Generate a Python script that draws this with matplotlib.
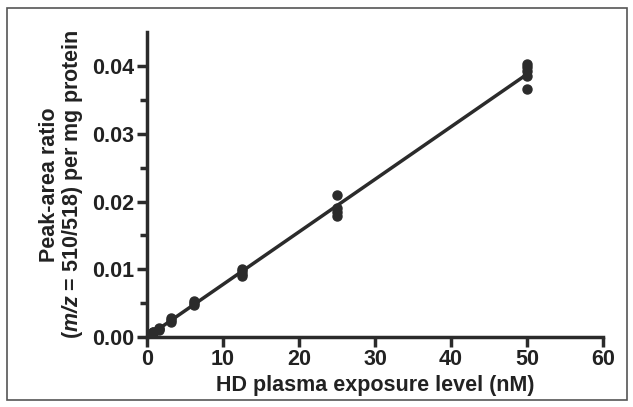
import numpy as np
import matplotlib.pyplot as plt
from matplotlib.patches import Rectangle

plt.rcParams['font.family'] = 'Liberation Sans'
plt.rcParams['mathtext.fontset'] = 'custom'
plt.rcParams['mathtext.bf'] = 'Liberation Sans:bold'
plt.rcParams['mathtext.bfit'] = 'Liberation Sans:bold:italic'
plt.rcParams['mathtext.rm'] = 'Liberation Sans:bold'

# HD exposure levels (nM) and replicate peak-area ratios
conc = [0.78, 1.56, 3.125, 6.25, 12.5, 25, 50]
ratios = [
    [0.0008, 0.0006, 0.0007],
    [0.0013, 0.0011, 0.0012],
    [0.0028, 0.0025, 0.0022],
    [0.0053, 0.0050, 0.0047],
    [0.0101, 0.0098, 0.0093, 0.0090],
    [0.0210, 0.0191, 0.0184, 0.0179],
    [0.0403, 0.0399, 0.0393, 0.0386, 0.0366],
]
xticks = [0, 10, 20, 30, 40, 50, 60]
yticks = [0.00, 0.01, 0.02, 0.03, 0.04]

col = '#2b2b2b'
fig = plt.figure(figsize=(6.33, 4.07), dpi=100)
ax = fig.add_axes([0.232, 0.172, 0.721, 0.749])

xs = np.concatenate([[c] * len(r) for c, r in zip(conc, ratios)])
ys = np.concatenate(ratios)
ax.plot(xs, ys, 'o', color=col, ms=6.5, mec=col, zorder=3)

slope, icpt = np.polyfit(xs, ys, 1)
xl = np.array([0, max(conc)])
ax.plot(xl, slope * xl + icpt, color=col, lw=2.5, zorder=2)

ax.set_xlim(0, 60)
ax.set_ylim(0, 0.045)
ax.set_xticks(xticks)
ax.set_yticks(yticks)
ax.set_yticks(np.arange(0.005, 0.045, 0.01), minor=True)
ax.set_xticklabels([str(t) for t in xticks])
ax.set_yticklabels(['%.2f' % t for t in yticks])
ax.tick_params(axis='both', which='major', length=7, width=2.5, color=col,
               labelsize=15.5, labelcolor='#222222', pad=2)
ax.tick_params(axis='y', which='minor', length=5, width=2.5, color=col)
for lab in ax.get_xticklabels() + ax.get_yticklabels():
    lab.set_fontweight('bold')

for s in ['top', 'right']:
    ax.spines[s].set_visible(False)
for s in ['left', 'bottom']:
    ax.spines[s].set_linewidth(2.5)
    ax.spines[s].set_color(col)

ax.set_xlabel('HD plasma exposure level (nM)', fontsize=15.5, fontweight='bold',
              color='#222222', labelpad=3)
ax.set_ylabel('Peak-area ratio\n($\\mathbfit{m/z}$ = 510/518) per mg protein',
              fontsize=15.5, fontweight='bold', color='#222222', labelpad=5,
              linespacing=1.0)

fig.patches.append(Rectangle((0.011, 0.018), 0.98, 0.962, transform=fig.transFigure,
                             fill=False, edgecolor='#555555', lw=1.2))

fig.savefig('out.png', dpi=100)
